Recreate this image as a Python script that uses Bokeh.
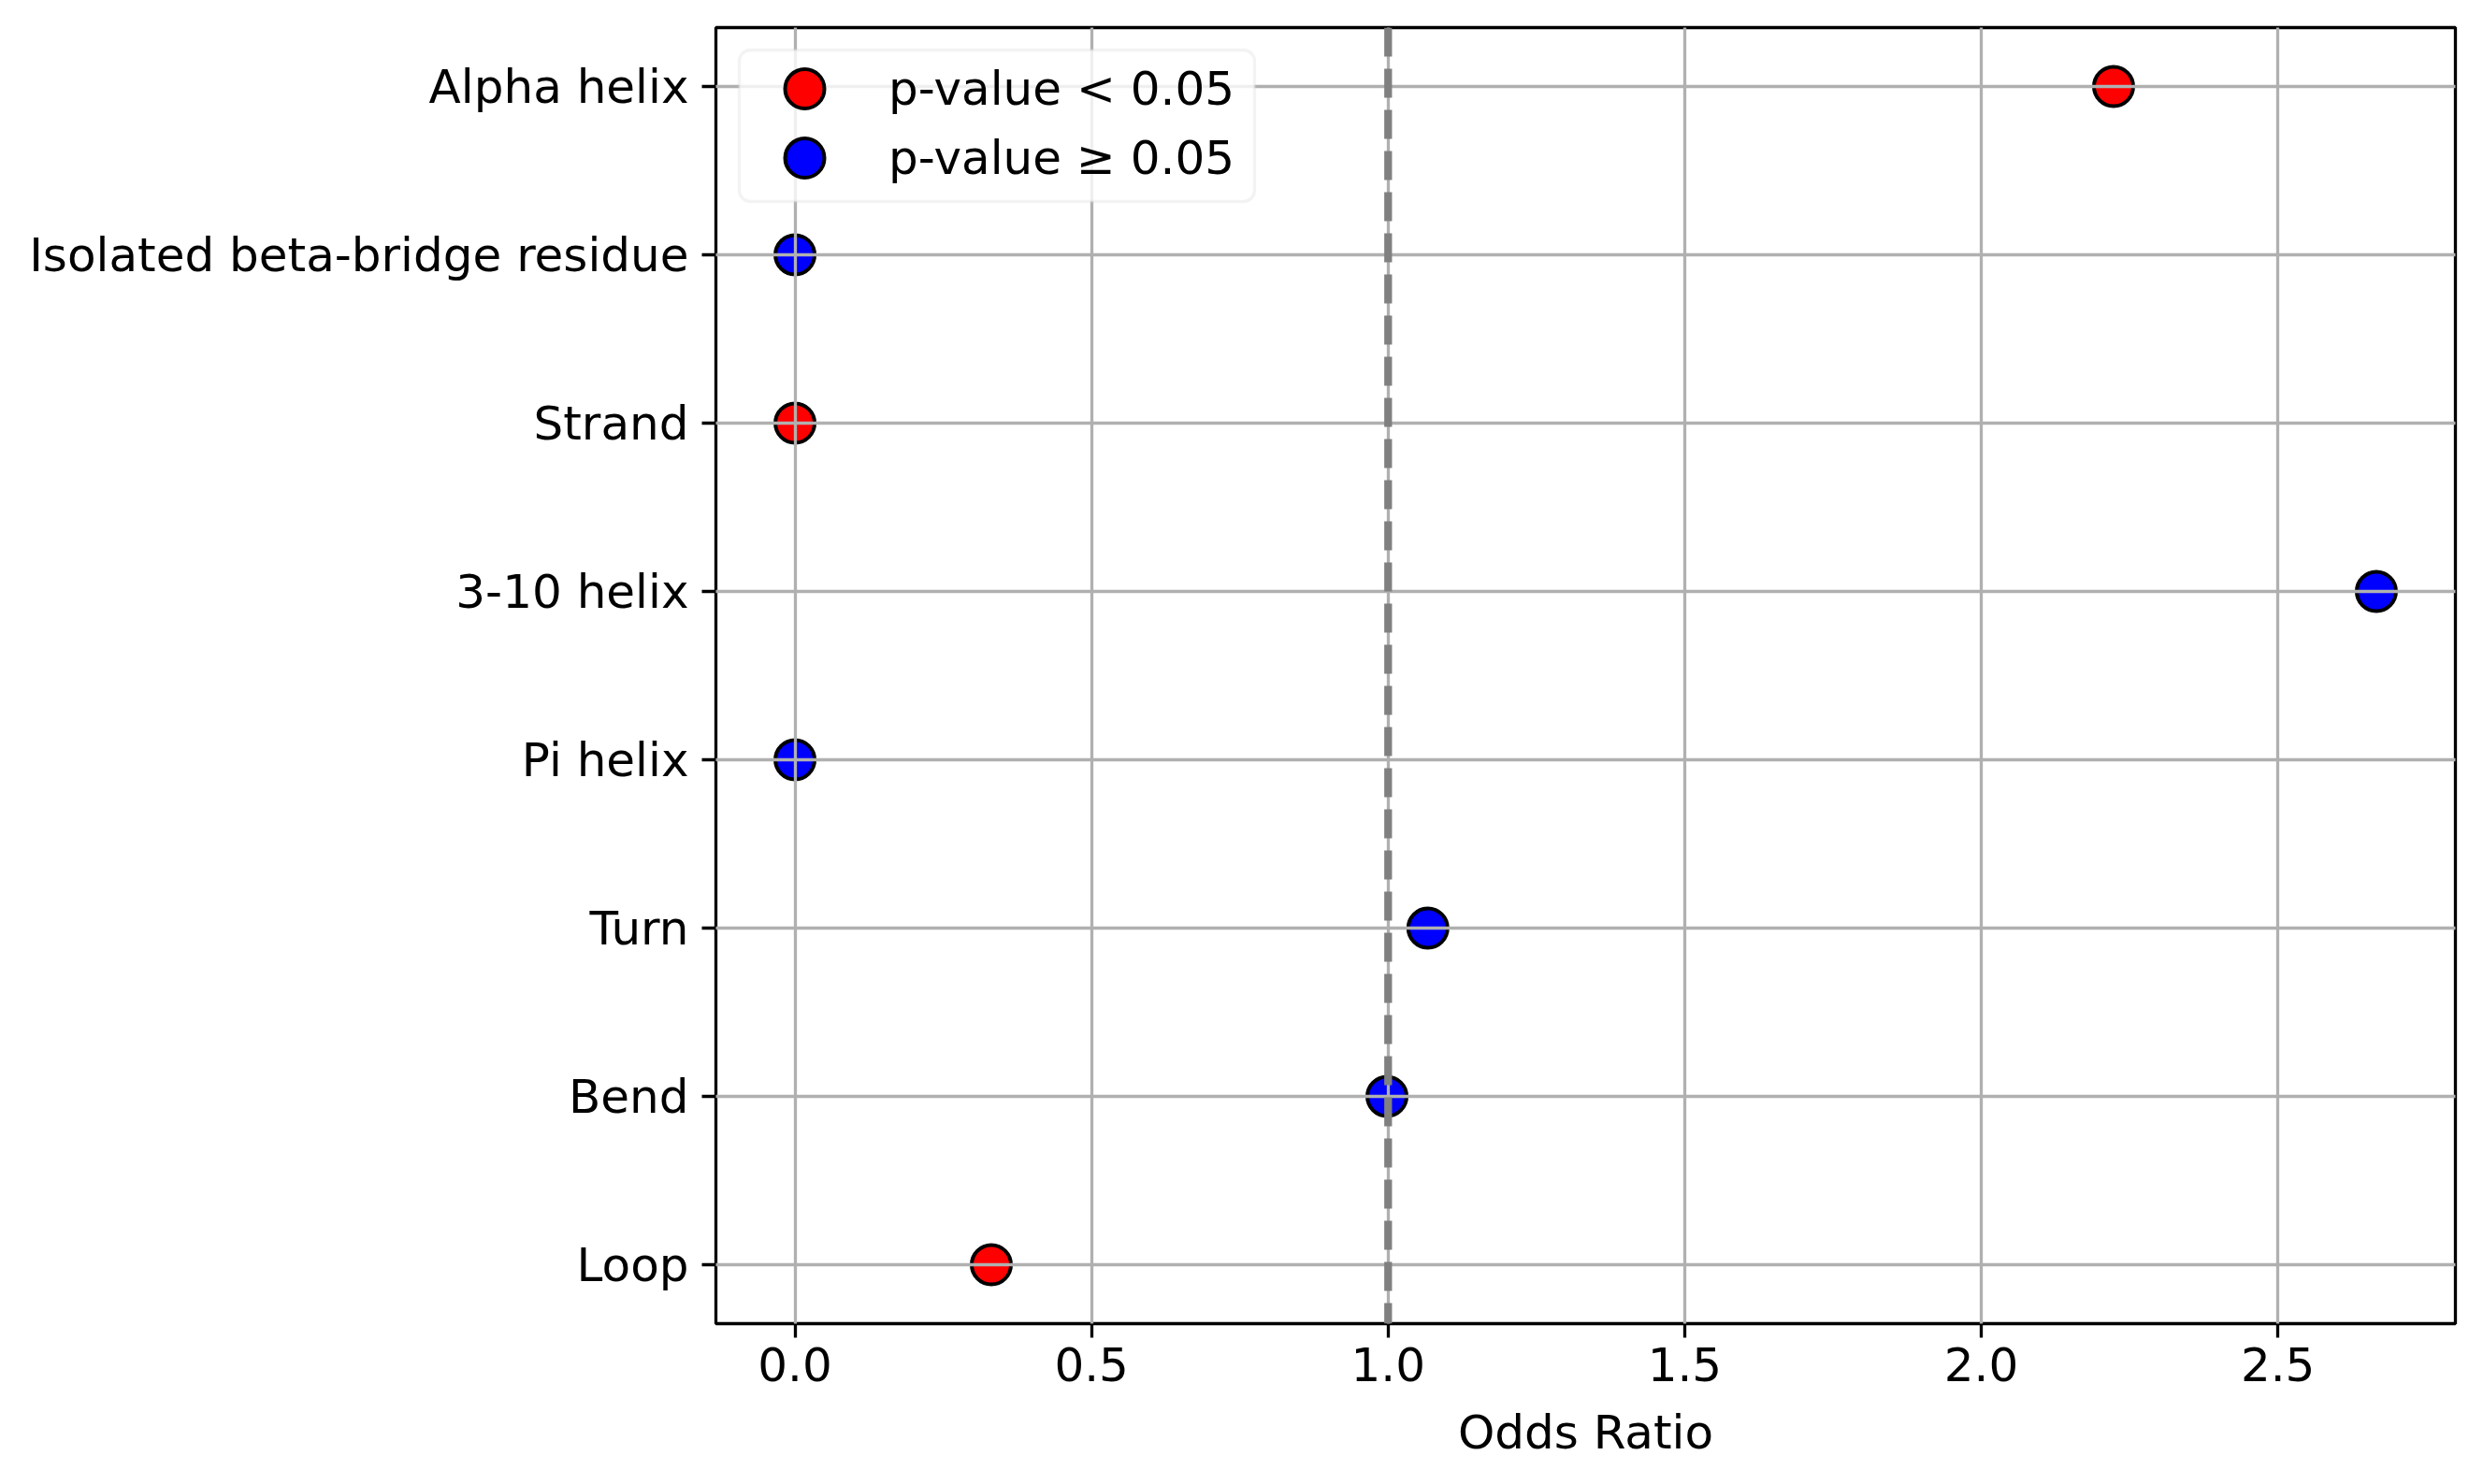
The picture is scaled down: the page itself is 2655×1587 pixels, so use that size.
from bokeh.plotting import figure
from bokeh.models import (ColumnDataSource, Range1d, FixedTicker, PrintfTickFormatter,
                          Span, Legend, LegendItem, BoxAnnotation)
from bokeh.embed import file_html
from bokeh.resources import INLINE

# ---- data ----
categories = ["Alpha helix", "Isolated beta-bridge residue", "Strand", "3-10 helix",
              "Pi helix", "Turn", "Bend", "Loop"]
odds_ratios = [2.223, 0.0, 0.0, 2.666, 0.0, 1.067, 0.998, 0.331]
significant = [True, False, True, False, False, False, False, True]
x_ticks = [0.0, 0.5, 1.0, 1.5, 2.0, 2.5]
reference_line = 1.0
legend_labels = ["p-value < 0.05", "p-value \u2265 0.05"]
x_label = "Odds Ratio"

FONT = "DejaVu Sans"
FS = "50px"
FRAME_W, FRAME_H = 1860, 1386

n = len(categories)
ypos = [n - 1 - i for i in range(n)]

sig_src = ColumnDataSource(dict(
    x=[v for v, s in zip(odds_ratios, significant) if s],
    y=[y for y, s in zip(ypos, significant) if s]))
ns_src = ColumnDataSource(dict(
    x=[v for v, s in zip(odds_ratios, significant) if not s],
    y=[y for y, s in zip(ypos, significant) if not s]))

xmin, xmax = min(odds_ratios), max(odds_ratios)
xspan = xmax - xmin
ypad = 0.05 * (n - 1)
xr = Range1d(xmin - 0.05 * xspan, xmax + 0.05 * xspan)
yr = Range1d(-ypad, n - 1 + ypad)

p = figure(width=2639, height=1571, output_backend="svg", toolbar_location=None,
           x_range=xr, y_range=yr,
           frame_width=FRAME_W, frame_height=FRAME_H,
           min_border_left=765, min_border_right=14, min_border_top=29, min_border_bottom=156)
p.title.visible = False
p.background_fill_color = "white"
p.border_fill_color = "white"
p.outline_line_color = "black"
p.outline_line_width = 3.3

# grids
for g in (p.xgrid, p.ygrid):
    g.grid_line_color = "#b0b0b0"
    g.grid_line_width = 3.3
    g.level = "guide"
p.xgrid.ticker = FixedTicker(ticks=x_ticks)
p.ygrid.ticker = FixedTicker(ticks=ypos)

# axes
p.xaxis.ticker = FixedTicker(ticks=x_ticks)
p.xaxis.formatter = PrintfTickFormatter(format="%.1f")
p.yaxis.ticker = FixedTicker(ticks=ypos)
p.yaxis.major_label_overrides = {y: c for y, c in zip(ypos, categories)}
p.xaxis.axis_label = x_label
for ax in (p.xaxis, p.yaxis):
    ax.axis_line_color = None
    ax.major_tick_line_color = "black"
    ax.major_tick_line_width = 3.3
    ax.major_tick_out = 15
    ax.major_tick_in = 0
    ax.minor_tick_line_color = None
    ax.major_label_text_font = FONT
    ax.major_label_text_font_size = FS
    ax.major_label_text_color = "black"
    ax.axis_label_text_font = FONT
    ax.axis_label_text_font_size = FS
    ax.axis_label_text_font_style = "normal"
    ax.axis_label_text_color = "black"
p.xaxis.major_label_standoff = 10
p.yaxis.major_label_standoff = 14
p.xaxis.axis_label_standoff = 23

# points
r_sig = p.scatter("x", "y", source=sig_src, size=42, fill_color="red",
                  line_color="black", line_width=4)
r_ns = p.scatter("x", "y", source=ns_src, size=42, fill_color="blue",
                 line_color="black", line_width=4)

# reference line
p.add_layout(Span(location=reference_line, dimension="height", line_color="gray",
                  line_width=8.3, line_dash="31 13"))

# legend frame (rounded box) placed relative to the plot frame, in pixels
lx0, ltop, lw, lh = 25, 24, 551, 162
sx = (xr.end - xr.start) / FRAME_W
sy = (yr.end - yr.start) / FRAME_H
p.add_layout(BoxAnnotation(left=xr.start + lx0 * sx, right=xr.start + (lx0 + lw) * sx,
                           top=yr.end - ltop * sy, bottom=yr.end - (ltop + lh) * sy,
                           fill_color="white", fill_alpha=0.8,
                           line_color="#d6d6d6", line_width=3.3, border_radius=12))

# one legend per entry so that the rows can sit closer than the marker box
GH = 105
row_tops = [13.5, 86.5]
for lab, rend, top in zip(legend_labels, [r_sig, r_ns], row_tops):
    lg = Legend(items=[LegendItem(label=lab, renderers=[rend])],
                location=(13, int(round(FRAME_H - top - GH))), margin=0, padding=0, spacing=0,
                glyph_width=164, glyph_height=GH, label_standoff=8,
                label_text_font=FONT, label_text_font_size=FS, label_text_color="black",
                background_fill_color=None, border_line_color=None)
    p.add_layout(lg, "center")

open("out.html", "w").write(file_html(p, INLINE))
